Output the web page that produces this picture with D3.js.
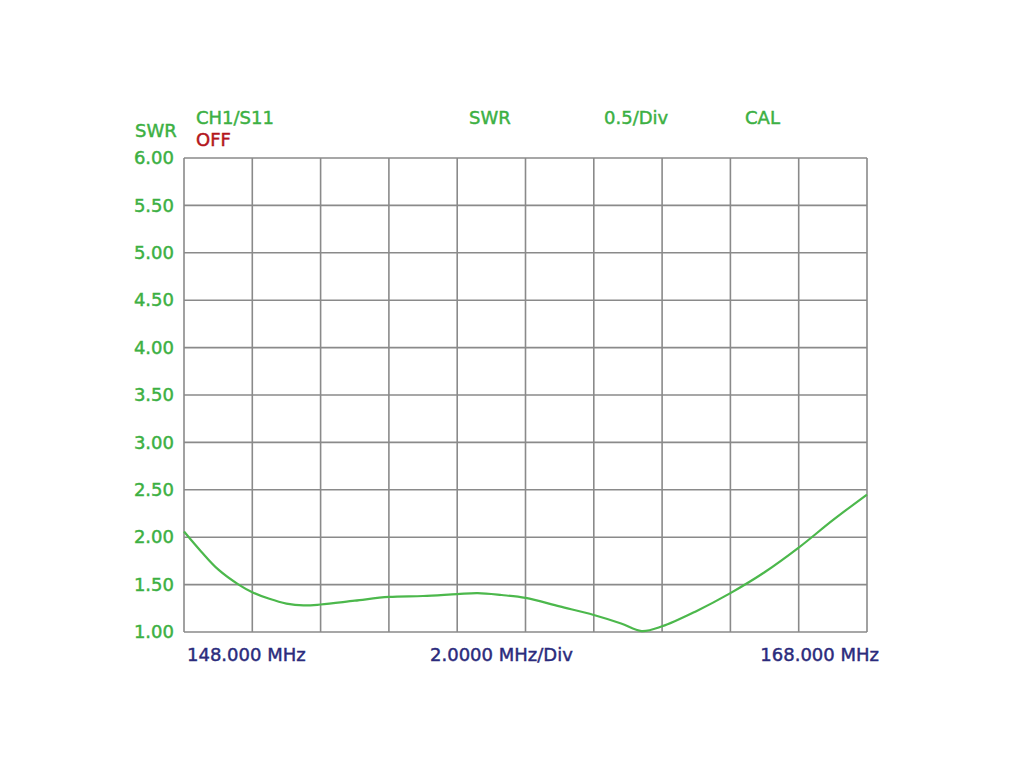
<!DOCTYPE html>
<html>
<head>
<meta charset="utf-8">
<script src="https://cdn.jsdelivr.net/npm/d3@7/dist/d3.min.js"></script>
<style>
  html, body { margin: 0; padding: 0; background: #ffffff; }
  svg { display: block; }
  text { font-family: "DejaVu Sans", Verdana, sans-serif; font-size: 18px; stroke-width: 0.45px; }
</style>
</head>
<body>
<svg id="chart" width="1024" height="768"></svg>
<script>
// ---- data ----
const freqMHz = [148.0, 148.5, 149.0, 149.6, 150.0, 150.5, 151.0, 151.5, 152.0, 153.0, 154.0, 155.0, 156.0, 156.6, 157.3, 158.0, 159.0, 160.0, 160.8, 161.4, 162.0, 163.0, 164.0, 165.0, 166.0, 167.0, 168.0];
const swr     = [2.06,  1.85,  1.66,  1.50,  1.42,  1.35,  1.30,  1.28,  1.29,  1.33,  1.37,  1.38,  1.40,  1.41,  1.39,  1.36,  1.27,  1.18,  1.09,  1.01,  1.06,  1.22,  1.41,  1.63,  1.89,  2.18,  2.45];
const yTicks = [1.00, 1.50, 2.00, 2.50, 3.00, 3.50, 4.00, 4.50, 5.00, 5.50, 6.00];
const xGrid = [148, 150, 152, 154, 156, 158, 160, 162, 164, 166, 168];
const headerLabels = ["CH1/S11", "SWR", "0.5/Div", "CAL"];
const footerLabels = ["148.000 MHz", "2.0000 MHz/Div", "168.000 MHz"];

// ---- layout ----
const pLeft = 184, pRight = 867, pTop = 158, pBottom = 632;
const svg = d3.select("#chart");
const x = d3.scaleLinear().domain([148, 168]).range([pLeft, pRight]);
const y = d3.scaleLinear().domain([1, 6]).range([pBottom, pTop]);

const green = "#3cb043", navy = "#2b2b7c", red = "#b3161c", gridC = "#8a8a8a";

// grid
svg.append("g").selectAll("line").data(yTicks).join("line")
  .attr("x1", pLeft).attr("x2", pRight)
  .attr("y1", d => y(d)).attr("y2", d => y(d))
  .attr("stroke", gridC).attr("stroke-width", 1.6);
svg.append("g").selectAll("line").data(xGrid).join("line")
  .attr("y1", pTop).attr("y2", pBottom)
  .attr("x1", d => x(d)).attr("x2", d => x(d))
  .attr("stroke", gridC).attr("stroke-width", 1.6);

// y axis labels
const yAxis = d3.axisLeft(y).tickValues(yTicks).tickFormat(d3.format(".2f")).tickSize(0).tickPadding(10);
const ya = svg.append("g").attr("transform", `translate(${pLeft},0)`).call(yAxis);
ya.select(".domain").remove();
ya.selectAll("text").attr("fill", green).attr("stroke", green)
  .style("font-family", '"DejaVu Sans", Verdana, sans-serif').style("font-size", "18px");

// curve
const line = d3.line().x((d, i) => x(freqMHz[i])).y(d => y(d)).curve(d3.curveCatmullRom.alpha(0.5));
svg.append("path").datum(swr).attr("d", line)
  .attr("fill", "none").attr("stroke", "#4cb84c").attr("stroke-width", 2.2);

// header texts
svg.append("text").attr("x", 135).attr("y", 137).attr("fill", green).attr("stroke", green).text("SWR");
const headerX = [196, 469, 604, 745];
svg.append("g").selectAll("text").data(headerLabels).join("text")
  .attr("x", (d, i) => headerX[i]).attr("y", 124).attr("fill", green).attr("stroke", green).text(d => d);
svg.append("text").attr("x", 196).attr("y", 146).attr("fill", red).attr("stroke", red).text("OFF");

// footer texts
const footerX = [187, 430, 879];
const footerAnchor = ["start", "start", "end"];
svg.append("g").selectAll("text").data(footerLabels).join("text")
  .attr("x", (d, i) => footerX[i]).attr("y", 661)
  .attr("text-anchor", (d, i) => footerAnchor[i])
  .attr("fill", navy).attr("stroke", navy).text(d => d);
</script>
</body>
</html>
